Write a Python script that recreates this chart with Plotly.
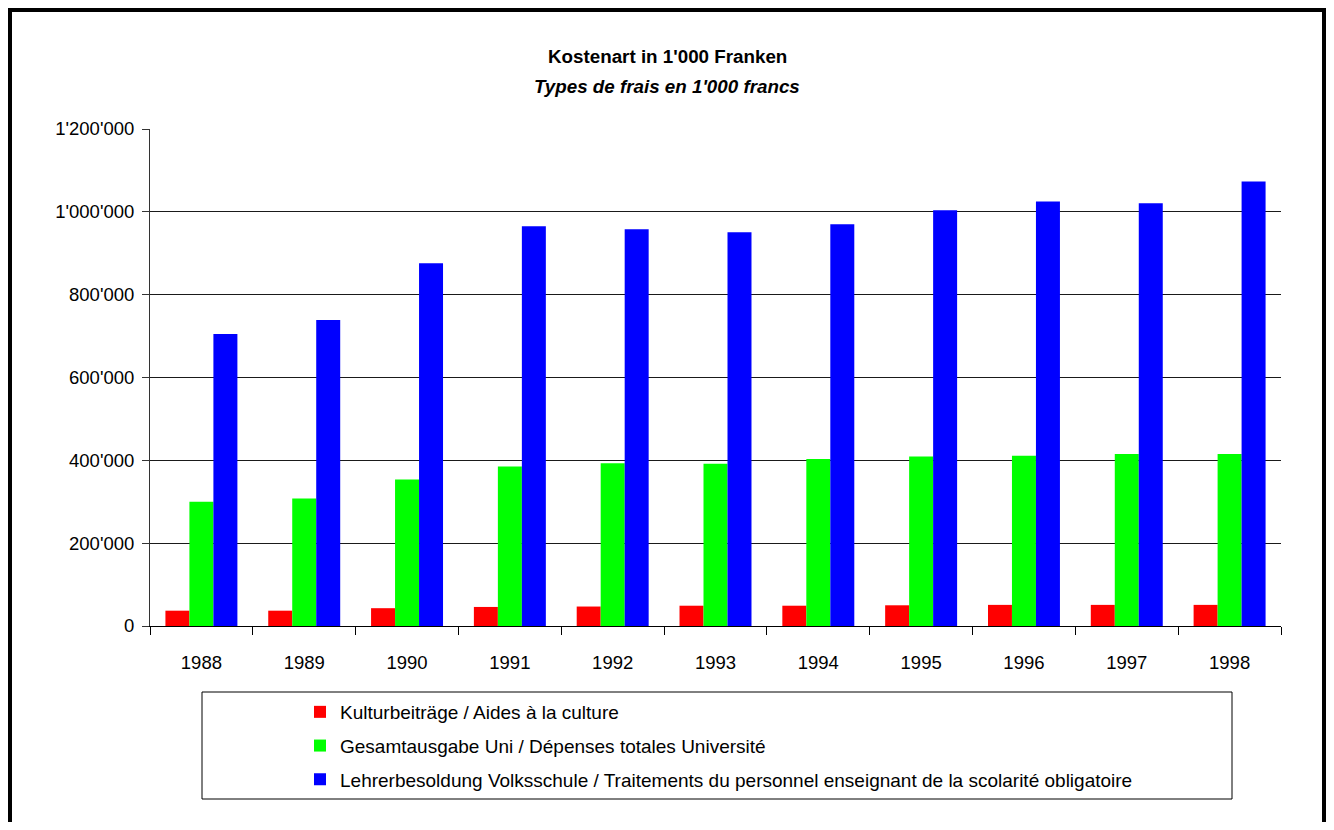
import plotly.graph_objects as go

# ── Daten (in 1'000 Franken) ─────────────────────────────────
JAHRE = ["1988", "1989", "1990", "1991", "1992", "1993",
         "1994", "1995", "1996", "1997", "1998"]

KULTUR = [37000, 37000, 43000, 46000, 47000, 49000,
          49000, 50000, 51000, 51000, 51000]
UNI = [300000, 308000, 354000, 385000, 393000, 392000,
       403000, 409000, 411000, 415000, 415000]
VOLKSSCHULE = [705000, 739000, 876000, 965000, 958000, 951000,
               970000, 1004000, 1025000, 1021000, 1073000]

NAMEN = [
    "Kulturbeiträge / Aides à la culture",
    "Gesamtausgabe Uni / Dépenses totales Université",
    "Lehrerbesoldung Volksschule / Traitements du personnel enseignant de la scolarité obligatoire",
]
FARBEN = ["#FF0000", "#00FF00", "#0000FF"]

# Seite hat 8px Rand -> Figur 1318 x 814, Bildschirm-Pixel minus 8
OFF = 8
W, H = 1334 - 2 * OFF, 830 - 2 * OFF
L, R, T, B = 150 - OFF, 1281 - OFF, 129 - OFF, 626 - OFF


def px_x(p):
    # p = Bildschirm-Pixel
    return (p - OFF - L) / (R - L)


def px_y(p):
    return (B - (p - OFF)) / (B - T)


fig = go.Figure()
for werte, name, farbe in zip([KULTUR, UNI, VOLKSSCHULE], NAMEN, FARBEN):
    fig.add_trace(go.Bar(
        x=JAHRE, y=werte, name=name,
        marker=dict(color=farbe, line=dict(width=0)),
        legendgroup=name,
    ))

FONT = "Liberation Sans, Arial, Helvetica, sans-serif"

fig.update_layout(
    width=W, height=H,
    paper_bgcolor="white",
    plot_bgcolor="white",
    font=dict(family=FONT, size=18, color="black"),
    separators=".'",
    margin=dict(l=L, r=W - R, t=T, b=H - B, pad=0),
    barmode="group",
    bargap=0.30,
    bargroupgap=0,
    showlegend=True,
    legend=dict(
        x=px_x(300), y=px_y(693), xanchor="left", yanchor="top",
        bgcolor="rgba(0,0,0,0)", borderwidth=0,
        font=dict(family=FONT, size=19, color="black"),
        tracegroupgap=6,
    ),
    xaxis=dict(
        type="category",
        showgrid=False, zeroline=False,
        showline=True, linecolor="black", linewidth=1,
        ticks="outside", tickson="boundaries", ticklen=8,
        tickcolor="black", tickwidth=1,
        ticklabelstandoff=20,
        tickfont=dict(size=18.5),
    ),
    yaxis=dict(
        range=[0, 1200000],
        tickvals=[0, 200000, 400000, 600000, 800000, 1000000, 1200000],
        tickformat=",.0f",
        showgrid=True, gridcolor="#1a1a1a", gridwidth=1,
        zeroline=False,
        showline=True, linecolor="#333333", linewidth=1,
        ticks="outside", ticklen=7, tickcolor="#333333",
        ticklabelstandoff=4,
        tickfont=dict(size=18.5),
    ),
    shapes=[
        # Rahmen um die ganze Grafik
        dict(type="rect", xref="paper", yref="paper",
             x0=px_x(OFF + 2), x1=px_x(1334 - OFF - 2),
             y0=px_y(850), y1=px_y(OFF + 2),
             line=dict(color="black", width=4), layer="above"),
        # Legendenrahmen
        dict(type="rect", xref="paper", yref="paper",
             x0=px_x(202), x1=px_x(1232), y0=px_y(799), y1=px_y(692),
             line=dict(color="black", width=1)),
    ],
    annotations=[
        dict(text="<b>Kostenart in 1'000 Franken</b>",
             xref="paper", yref="paper", x=px_x(667), y=px_y(57),
             xanchor="center", yanchor="middle", showarrow=False,
             font=dict(size=18.8)),
        dict(text="<b><i>Types de frais en 1'000 francs</i></b>",
             xref="paper", yref="paper", x=px_x(667), y=px_y(86),
             xanchor="center", yanchor="middle", showarrow=False,
             font=dict(size=18.8)),
    ],
)

fig.write_html("out.html")
